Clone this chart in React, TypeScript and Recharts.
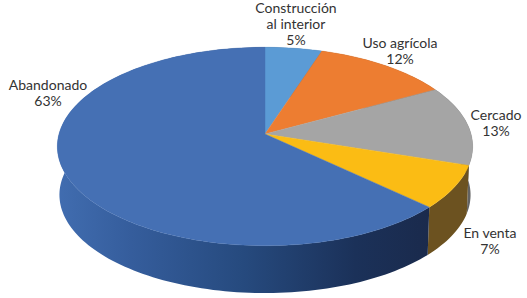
import React from 'react';
import { PieChart, Pie, Cell } from 'recharts';

const categories = ['Construcción\nal interior', 'Uso agrícola', 'Cercado', 'En venta', 'Abandonado'];
const shares = [5, 12, 13, 7, 63];
const topColors = ['#5b9bd5', '#ed7d31', '#a5a5a5', '#fbbc14', '#4570b4'];
const wallColors = ['#38608a', '#8f4b1e', '#636363', '#6c5220', 'url(#blueWall)'];
const labelCentres = [
  [296, 8],
  [400, 43],
  [496, 115],
  [490, 233],
  [48, 85],
];

const chartData = categories.map((name, i) => ({ name, value: shares[i], wall: wallColors[i] }));

// the disc is tilted in perspective, so the slice centre sits above the middle of the ellipse
const TILT = 0.474;
const PERSPECTIVE = 0.1256;
const DEPTH = 48.5;
const BOTTOM_SCALE = 0.99;
const STEP = 1.5;

const project = (cx: number, cy: number, r: number, angle: number) => {
  const a = (angle * Math.PI) / 180;
  const X = Math.cos(a);
  const Y = Math.sin(a);
  const d = 1 + PERSPECTIVE * Y;
  return [cx + (r * X) / d, cy - (r * TILT * Y) / d];
};

const arcPoints = (p: any, cx: number, cy: number, r: number) => {
  const pts = [];
  const n = Math.max(2, Math.ceil(Math.abs(p.endAngle - p.startAngle) / STEP));
  for (let i = 0; i <= n; i++) {
    pts.push(project(cx, cy, r, p.startAngle + ((p.endAngle - p.startAngle) * i) / n));
  }
  return pts;
};

const toPath = (pts: number[][]) => 'M' + pts.map((q) => `${q[0].toFixed(2)},${q[1].toFixed(2)}`).join('L') + 'Z';

const TopSlice = (props: any) => {
  const { cx, cy, outerRadius, fill } = props;
  const pts = [[cx, cy], ...arcPoints(props, cx, cy, outerRadius)];
  return <path d={toPath(pts)} fill={fill} stroke={fill} strokeWidth={0.4} />;
};

const WallSlice = (props: any) => {
  const { cx, cy, outerRadius, fill } = props;
  const top = arcPoints(props, cx, cy, outerRadius);
  const bottom = arcPoints(props, cx, cy + DEPTH, outerRadius * BOTTOM_SCALE).reverse();
  return <path d={toPath([...top, ...bottom])} fill={fill} stroke="none" />;
};

const renderLabel = (props: any) => {
  const [x, y] = labelCentres[props.index];
  const lines = [...String(props.name).split('\n'), `${props.value}%`];
  return (
    <text key={props.index} x={x} y={y + 5} textAnchor="middle" fontFamily="Lato, sans-serif" fontSize={14} fill="#333333">
      {lines.map((line, i) => (
        <tspan key={line} x={x} dy={i === 0 ? 0 : 16}>
          {line}
        </tspan>
      ))}
    </text>
  );
};

export default function App() {
  return (
    <div style={{ position: 'absolute', left: 0, top: 0 }}>
      <PieChart width={527} height={298} margin={{ top: 0, right: 0, bottom: 0, left: 0 }}>
        <defs>
          <linearGradient id="blueWall" gradientUnits="userSpaceOnUse" x1={57} y1={0} x2={430} y2={0}>
            <stop offset="0" stopColor="#416db0" />
            <stop offset="0.2" stopColor="#355d9c" />
            <stop offset="0.5" stopColor="#264a7e" />
            <stop offset="0.8" stopColor="#1b3159" />
            <stop offset="1" stopColor="#1a2a4c" />
          </linearGradient>
        </defs>
        <Pie
          data={chartData}
          dataKey="value"
          nameKey="name"
          cx={265}
          cy={134}
          outerRadius={206}
          startAngle={90}
          endAngle={-270}
          stroke="none"
          isAnimationActive={false}
          shape={WallSlice}
        >
          {chartData.map((entry, i) => (
            <Cell key={`wall-${i}`} fill={entry.wall} />
          ))}
        </Pie>
        <Pie
          data={chartData}
          dataKey="value"
          nameKey="name"
          cx={265}
          cy={134}
          outerRadius={206}
          startAngle={90}
          endAngle={-270}
          stroke="none"
          isAnimationActive={false}
          shape={TopSlice}
          label={renderLabel}
          labelLine={false}
        >
          {chartData.map((entry, i) => (
            <Cell key={`top-${i}`} fill={topColors[i]} />
          ))}
        </Pie>
      </PieChart>
    </div>
  );
}
